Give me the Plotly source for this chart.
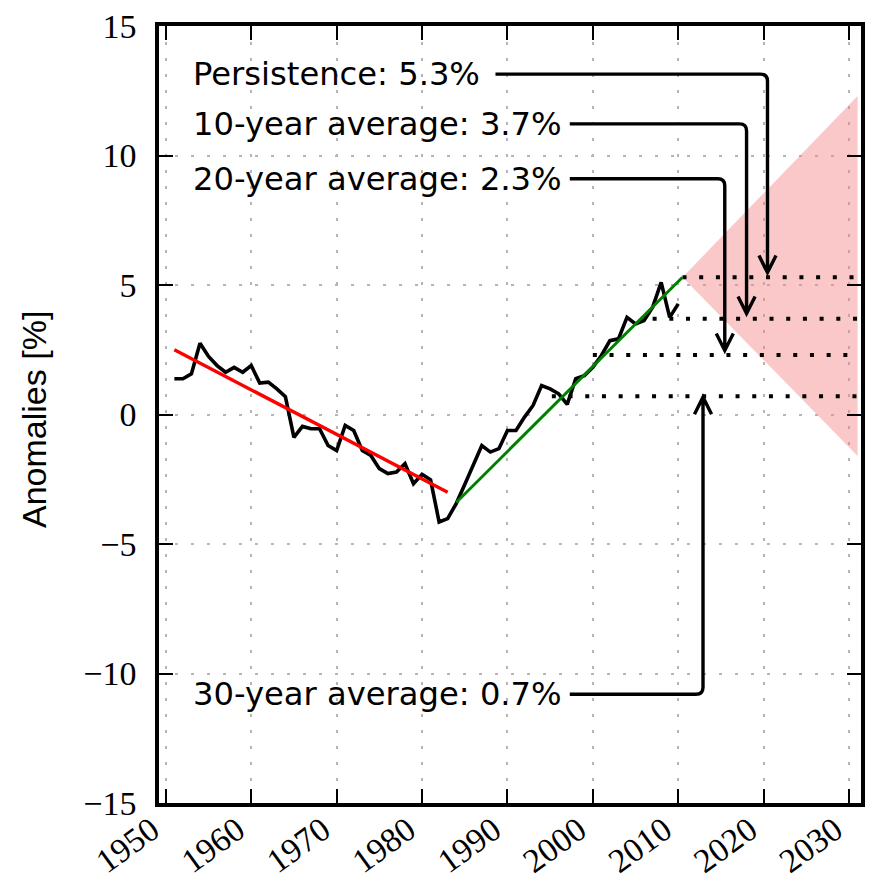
import plotly.graph_objects as go

# Annual anomaly series (%)
years = list(range(1951, 2011))
anomalies = [1.38, 1.38, 1.57, 2.75, 2.24, 1.89, 1.63, 1.82, 1.63, 1.89,
             1.21, 1.25, 0.99, 0.69, -0.88, -0.46, -0.55, -0.55, -1.20, -1.39,
             -0.42, -0.62, -1.39, -1.58, -2.09, -2.28, -2.22, -1.90, -2.67, -2.31,
             -2.52, -4.15, -4.02, -3.44, -2.70, -1.95, -1.20, -1.45, -1.32, -0.62,
             -0.62, -0.10, 0.35, 1.12, 0.99, 0.80, 0.39, 1.38, 1.50, 1.82,
             2.28, 2.85, 2.92, 3.75, 3.50, 3.63, 4.14, 5.10, 3.75, 4.27]

# Linear trends for the two periods
early_trend_x = [1951, 1983]
early_trend_y = [2.5, -3.0]
late_trend_x = [1984, 2010.5]
late_trend_y = [-3.4, 5.3]

# Forecast uncertainty cone
cone_x = [2010.5, 2031.0, 2031.0]
cone_y = [5.3, 12.3, -1.6]

# Forecast levels
forecast_names = ["Persistence", "10-year average", "20-year average", "30-year average"]
forecast_values = [5.3, 3.7, 2.3, 0.7]
forecast_start = [2010.5, 2007.0, 2000.0, 1995.2]
forecast_end = 2031.0

x_ticks = list(range(1950, 2031, 10))
y_ticks = [-15, -10, -5, 0, 5, 10, 15]

# Label / connector layout (data coordinates)
label_x = 1953.0
label_y = [13.14, 11.22, 9.10, -10.8]
conn_start = [1988.6, 1997.3, 1997.3, 1997.3]
conn_corner = [2020.45, 2018.0, 2015.45, 2012.9]
tip_gap = [0.18, 0.2, 0.17, -0.03]

fig = go.Figure()

fig.add_trace(go.Scatter(x=cone_x + [cone_x[0]], y=cone_y + [cone_y[0]], mode="lines",
                         fill="toself", fillcolor="rgba(244,132,132,0.45)",
                         line=dict(width=0), hoverinfo="skip"))

for v, x0 in zip(forecast_values, forecast_start):
    fig.add_trace(go.Scatter(x=[x0, forecast_end], y=[v, v], mode="lines",
                             line=dict(color="black", width=4, dash="4px,12.7px")))

fig.add_trace(go.Scatter(x=years, y=anomalies, mode="lines",
                         line=dict(color="black", width=3.6)))
fig.add_trace(go.Scatter(x=early_trend_x, y=early_trend_y, mode="lines",
                         line=dict(color="#ff0000", width=3.4)))
fig.add_trace(go.Scatter(x=late_trend_x, y=late_trend_y, mode="lines",
                         line=dict(color="#008000", width=3)))

# Labels and bent arrows pointing at each forecast level
rx, ry = 0.82, 0.27      # corner rounding
hw, hh = 1.0, 0.66       # arrowhead half-width / height
shapes = []
annotations = []
for name, v, ly, xs, xc, g in zip(forecast_names, forecast_values, label_y,
                                  conn_start, conn_corner, tip_gap):
    annotations.append(dict(x=label_x, y=ly, xref="x", yref="y", text=f"{name}: {v:.1f}%",
                            showarrow=False, xanchor="left", yanchor="middle",
                            font=dict(family="DejaVu Sans", size=32.2, color="black")))
    tip = v + g
    s = 1 if ly > tip else -1
    path = (f"M {xs},{ly} L {xc - rx},{ly} Q {xc},{ly} {xc},{ly - s * ry} L {xc},{tip} "
            f"M {xc - hw},{tip + s * hh} L {xc},{tip} L {xc + hw},{tip + s * hh}")
    shapes.append(dict(type="path", path=path, xref="x", yref="y",
                       line=dict(color="black", width=3.4), layer="above"))

annotations.append(dict(x=-0.178, y=0.493, xref="paper", yref="paper", text="Anomalies [%]",
                        textangle=-90, showarrow=False, xanchor="center", yanchor="middle",
                        font=dict(family="Liberation Sans", size=34, color="black")))

axis_common = dict(showline=True, linecolor="black", linewidth=3.5, mirror="ticks",
                   ticks="inside", ticklen=14, tickwidth=2, tickcolor="black",
                   showgrid=True, gridcolor="#b5b5b5", gridwidth=1.5, griddash="3px,13px",
                   zeroline=False, automargin=False,
                   tickfont=dict(family="Liberation Serif", size=34, color="black"))

fig.update_layout(
    width=869, height=879,
    margin=dict(l=159, r=8, t=26, b=76),
    paper_bgcolor="white", plot_bgcolor="white",
    showlegend=False,
    xaxis=dict(range=[1949.2, 2031.4], tickvals=x_ticks, tickangle=-36,
               ticklabelshift=-14, ticklabelstandoff=-10, **axis_common),
    yaxis=dict(range=[-15, 15], tickvals=y_ticks, ticklabelstandoff=12, **axis_common),
    shapes=shapes, annotations=annotations,
)

fig.write_html("out.html")
